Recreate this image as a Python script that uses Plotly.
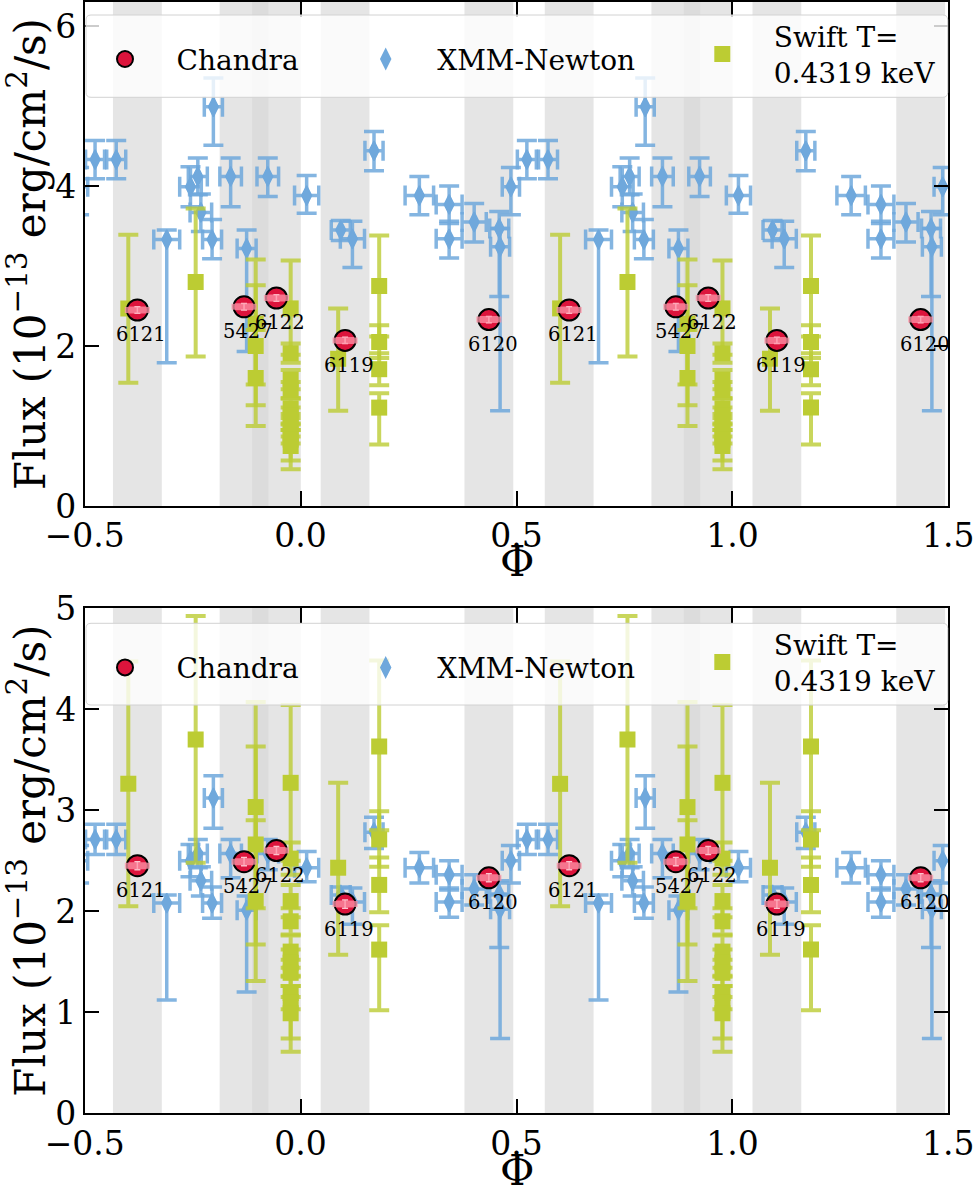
import plotly.graph_objects as go

# ---------------- data (orbital phase in [-0.5, 0.5)) ----------------
# Chandra observations
chandra_obsid = ["6121", "5427", "6122", "6119", "6120"]
chandra_phase = [-0.378, -0.131, -0.056, 0.103, 0.436]
chandra_phase_err = [0.021, 0.021, 0.021, 0.021, 0.021]
chandra_flux = [2.45, 2.49, 2.60, 2.07, 2.33]
chandra_flux_err = [0.04, 0.04, 0.04, 0.04, 0.04]
chandra_cover = 0.0565  # half-width of the phase interval covered by each pointing

# XMM-Newton
xmm_phase = [-0.476, -0.427, -0.310, -0.255, -0.238, -0.231, -0.205, -0.202, -0.162,
             -0.125, -0.076, 0.014, 0.093, 0.120, 0.170, 0.275, 0.344, 0.344,
             0.402, 0.460, 0.462, 0.487]
xmm_phase_err = [0.022, 0.022, 0.030, 0.025, 0.022, 0.025, 0.022, 0.021, 0.025,
                 0.022, 0.025, 0.028, 0.022, 0.028, 0.021, 0.033, 0.030, 0.030,
                 0.028, 0.022, 0.022, 0.020]
# upper panel
xmm_flux_a = [4.33, 4.33, 3.33, 3.99, 4.12, 3.67, 3.33, 4.99, 4.12, 3.22, 4.12, 3.88,
              3.45, 3.34, 4.44, 3.88, 3.77, 3.34, 3.55, 3.47, 3.24, 3.99]
xmm_lo_a = [0.24, 0.24, 1.54, 0.25, 0.23, 0.24, 0.24, 0.48, 0.38, 1.29, 0.25, 0.22,
            0.13, 0.36, 0.25, 0.24, 0.24, 0.24, 0.25, 0.85, 2.05, 0.35]
xmm_hi_a = [0.24, 0.24, 0.12, 0.25, 0.23, 0.23, 0.25, 0.36, 0.23, 0.23, 0.23, 0.25,
            0.12, 0.22, 0.24, 0.24, 0.23, 0.22, 0.23, 0.21, 0.23, 0.24]
# lower panel
xmm_flux_b = [2.71, 2.71, 2.08, 2.50, 2.57, 2.30, 2.08, 3.12, 2.57, 2.01, 2.57, 2.43,
              2.16, 2.09, 2.78, 2.43, 2.36, 2.09, 2.22, 2.17, 2.02, 2.50]
xmm_lo_b = [0.15, 0.15, 0.96, 0.16, 0.14, 0.15, 0.15, 0.30, 0.24, 0.81, 0.16, 0.14,
            0.08, 0.22, 0.16, 0.15, 0.15, 0.15, 0.16, 0.53, 1.28, 0.22]
xmm_hi_b = [0.15, 0.15, 0.08, 0.16, 0.14, 0.14, 0.16, 0.22, 0.14, 0.14, 0.14, 0.16,
            0.08, 0.14, 0.15, 0.15, 0.14, 0.14, 0.14, 0.13, 0.14, 0.15]

# Swift
swift_phase = [-0.399, -0.243, -0.104, -0.104, -0.104,
               -0.023, -0.023, -0.023, -0.023, -0.023, -0.023, -0.023, -0.023, -0.023, -0.023,
               0.087, 0.182, 0.182, 0.182, 0.182]
# upper panel
swift_flux_a = [2.47, 2.80, 2.28, 2.00, 1.60,
                2.47, 1.91, 1.58, 1.45, 1.22, 1.13, 1.05, 0.90, 0.83, 0.75,
                1.84, 2.75, 2.05, 1.71, 1.23]
swift_lo_a = [0.93, 0.93, 0.76, 0.74, 0.60,
              0.58, 0.12, 0.12, 0.10, 0.12, 0.10, 0.10, 0.12, 0.26, 0.29,
              0.65, 0.63, 0.20, 0.20, 0.46]
swift_hi_a = [0.92, 0.92, 0.80, 0.76, 0.60,
              0.60, 0.12, 0.12, 0.10, 0.12, 0.10, 0.10, 0.12, 0.12, 0.12,
              0.63, 0.63, 0.21, 0.20, 0.18]
# lower panel
swift_flux_b = [3.26, 3.70, 3.03, 2.66, 2.10,
                3.27, 2.52, 2.10, 1.90, 1.60, 1.49, 1.39, 1.19, 1.10, 0.99,
                2.43, 3.63, 2.71, 2.26, 1.62]
swift_lo_b = [1.21, 1.22, 1.00, 0.99, 0.79,
              0.77, 0.16, 0.16, 0.13, 0.16, 0.13, 0.13, 0.16, 0.36, 0.38,
              0.86, 0.83, 0.27, 0.27, 0.60]
swift_hi_b = [1.21, 1.22, 1.04, 0.97, 0.80,
              0.77, 0.16, 0.16, 0.13, 0.16, 0.13, 0.13, 0.16, 0.16, 0.16,
              0.84, 0.85, 0.28, 0.27, 0.24]

# ---------------- styling ----------------
FONT = "DejaVu Serif"
CHANDRA_COLOR = "#DC143C"
XMM_COLOR = "rgb(111,168,220)"
XMM_ERR = "rgba(111,168,220,0.85)"
SWIFT_COLOR = "rgb(188,204,51)"
SWIFT_ERR = "rgba(188,204,51,0.8)"
BAND_COLOR = "rgba(215,215,215,0.65)"

PHASE_MIN, PHASE_MAX = -0.5, 1.5
SHIFTS = (-1, 0, 1)  # each cycle is drawn twice so two orbits are visible


def wrap_phase(ph):
    return [p + s for s in SHIFTS for p in ph]


def wrap(vals):
    return [v for s in SHIFTS for v in vals]


W, H = 978, 1186
X_DOM = [84.7 / W, 948.3 / W]
PANELS = [
    dict(xa="x", ya="y", ydom=[(H - 506) / H, (H - 2) / H], yrange=[0, 6.3], dtick=2,
         xmm=(xmm_flux_a, xmm_lo_a, xmm_hi_a), swift=(swift_flux_a, swift_lo_a, swift_hi_a),
         legends=("legend", "legend2", "legend3"), box=(15, 97.3), sym_y=59.3, swift_y=54,
         phi_y=561),
    dict(xa="x2", ya="y2", ydom=[(H - 1113.3) / H, (H - 608) / H], yrange=[0, 5.0], dtick=1,
         xmm=(xmm_flux_b, xmm_lo_b, xmm_hi_b), swift=(swift_flux_b, swift_lo_b, swift_hi_b),
         legends=("legend4", "legend5", "legend6"), box=(623.3, 705), sym_y=667.7, swift_y=662,
         phi_y=1170),
]

fig = go.Figure()
shapes = []
annotations = []
layout = {}


def px(v):
    return v / W


def py(v):
    return (H - v) / H


for i, pn in enumerate(PANELS):
    xa, ya = pn["xa"], pn["ya"]
    lg = pn["legends"]

    # phase coverage of the Chandra pointings
    for p in wrap_phase(chandra_phase):
        x0, x1 = p - chandra_cover, p + chandra_cover
        if x1 < PHASE_MIN or x0 > PHASE_MAX:
            continue
        shapes.append(dict(type="rect", xref=xa, yref=f"{ya} domain", x0=x0, x1=x1, y0=0, y1=1,
                           fillcolor=BAND_COLOR, line=dict(width=0), layer="below"))

    fx, lx, hx = pn["xmm"]
    fig.add_trace(go.Scatter(
        x=wrap_phase(xmm_phase), y=wrap(fx), mode="markers", name="XMM-Newton",
        xaxis=xa, yaxis=ya, legend=lg[1],
        marker=dict(symbol="diamond-tall", size=14, color=XMM_COLOR,
                    line=dict(color=XMM_COLOR, width=1.5)),
        error_x=dict(type="data", array=wrap(xmm_phase_err), color=XMM_ERR, thickness=3.5, width=10),
        error_y=dict(type="data", symmetric=False, array=wrap(hx), arrayminus=wrap(lx),
                     color=XMM_ERR, thickness=3.5, width=10),
    ))

    fs, ls, hs = pn["swift"]
    fig.add_trace(go.Scatter(
        x=wrap_phase(swift_phase), y=wrap(fs), mode="markers", name="Swift T=<br>0.4319 keV",
        xaxis=xa, yaxis=ya, legend=lg[2],
        marker=dict(symbol="square", size=16, color=SWIFT_COLOR),
        error_y=dict(type="data", symmetric=False, array=wrap(hs), arrayminus=wrap(ls),
                     color=SWIFT_ERR, thickness=4, width=10),
    ))

    fig.add_trace(go.Scatter(
        x=wrap_phase(chandra_phase), y=wrap(chandra_flux), mode="markers", name="Chandra",
        xaxis=xa, yaxis=ya, legend=lg[0],
        marker=dict(symbol="circle", size=21, color=CHANDRA_COLOR, line=dict(color="black", width=2)),
    ))
    # Chandra error bars drawn over the markers
    fig.add_trace(go.Scatter(
        x=wrap_phase(chandra_phase), y=wrap(chandra_flux), mode="markers", showlegend=False,
        xaxis=xa, yaxis=ya, hoverinfo="skip",
        marker=dict(size=1, opacity=0),
        error_x=dict(type="data", array=wrap(chandra_phase_err), color="rgba(255,150,170,0.75)",
                     thickness=7, width=3),
        error_y=dict(type="data", array=wrap(chandra_flux_err), color="rgba(255,215,222,0.9)",
                     thickness=1.5, width=3),
    ))

    # ObsID labels
    for p, f, oid in zip(wrap_phase(chandra_phase), wrap(chandra_flux), wrap(chandra_obsid)):
        if PHASE_MIN <= p <= PHASE_MAX:
            annotations.append(dict(x=p, y=f, xref=xa, yref=ya, text=oid, showarrow=False,
                                    xshift=4, yshift=-25, font=dict(family=FONT, size=19.5, color="black")))

    # phase axis label
    annotations.append(dict(x=(X_DOM[0] + X_DOM[1]) / 2, y=py(pn["phi_y"]), xref="paper", yref="paper",
                            text="Φ", showarrow=False, xanchor="center", yanchor="middle",
                            font=dict(family=FONT, size=42, color="black")))

    # semi-transparent legend frame
    y_top, y_bot = pn["box"]
    bx0, bx1, r = 86.0, 947.7, 5.0
    path = (f"M{px(bx0 + r)},{py(y_top)} L{px(bx1 - r)},{py(y_top)} "
            f"Q{px(bx1)},{py(y_top)} {px(bx1)},{py(y_top + r)} L{px(bx1)},{py(y_bot - r)} "
            f"Q{px(bx1)},{py(y_bot)} {px(bx1 - r)},{py(y_bot)} L{px(bx0 + r)},{py(y_bot)} "
            f"Q{px(bx0)},{py(y_bot)} {px(bx0)},{py(y_bot - r)} L{px(bx0)},{py(y_top + r)} "
            f"Q{px(bx0)},{py(y_top)} {px(bx0 + r)},{py(y_top)} Z")
    shapes.append(dict(type="path", xref="paper", yref="paper", path=path,
                       fillcolor="rgba(255,255,255,0.8)", line=dict(color="rgb(210,210,210)", width=1),
                       layer="above"))

    # one legend per entry so the columns sit where they should
    leg_common = dict(bgcolor="rgba(0,0,0,0)", borderwidth=0, itemwidth=93,
                      font=dict(family=FONT, size=28, color="black"),
                      xanchor="left", yanchor="middle", itemclick=False, itemdoubleclick=False)
    sym_x = (125.0, 385.7, 722.3)
    for k in range(3):
        yc = pn["swift_y"] if k == 2 else pn["sym_y"]
        layout[lg[k]] = dict(leg_common, x=(sym_x[k] - 51.5) / W, y=py(yc))

    axis_common = dict(showline=True, linecolor="black", linewidth=1.5, mirror="ticks",
                       ticks="inside", ticklen=15, tickwidth=2, tickcolor="black",
                       showgrid=False, zeroline=False,
                       tickfont=dict(family=FONT, size=33, color="black"))
    xkey = "xaxis" if i == 0 else "xaxis2"
    ykey = "yaxis" if i == 0 else "yaxis2"
    layout[xkey] = dict(axis_common, domain=X_DOM, range=[PHASE_MIN, PHASE_MAX], anchor=ya,
                        tick0=-0.5, dtick=0.5, tickformat=".1f")
    layout[ykey] = dict(axis_common, domain=pn["ydom"], range=pn["yrange"], anchor=xa,
                        tick0=0, dtick=pn["dtick"],
                        title=dict(text="Flux (10<sup>−13</sup> erg/cm<sup>2</sup>/s)",
                                   font=dict(family=FONT, size=42, color="black"), standoff=8))

fig.update_layout(
    width=W, height=H, margin=dict(l=0, r=0, t=0, b=0, autoexpand=False),
    paper_bgcolor="white", plot_bgcolor="white",
    font=dict(family=FONT, color="black"),
    shapes=shapes, annotations=annotations, **layout,
)

fig.write_html("out.html")
